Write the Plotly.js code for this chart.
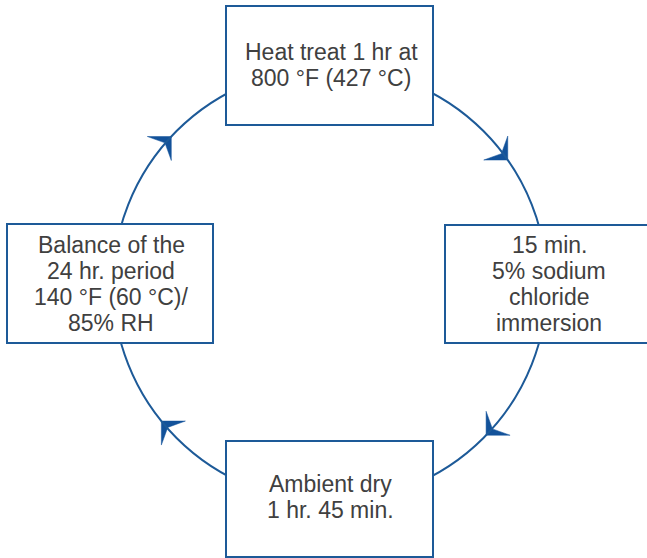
<!DOCTYPE html>
<html>
<head>
<meta charset="utf-8">
<script src="https://cdn.plot.ly/plotly-3.0.1.min.js"></script>
<style>html,body{margin:0;padding:0;background:#fff;}#chart{width:647px;height:558px;}</style>
</head>
<body>
<div id="chart"></div>
<script>
// Cycle steps (clockwise from top)
const stepLabels = [
  "Heat treat 1 hr at<br>800 °F (427 °C)",
  "15 min.<br>5% sodium<br>chloride<br>immersion",
  "Ambient dry<br>1 hr. 45 min.",
  "Balance of the<br>24 hr. period<br>140 °F (60 °C)/<br>85% RH"
];
// Arrow positions on the cycle ring, as angles in degrees
const arrowAngles = [35, -44, -141, 137];

// ---- layout geometry (pixel-space axes) ----
const W = 647, H = 558;
const ring = {cx: 330, cy: 284.5, r: 217};
const boxes = [
  {x0: 226, x1: 433, y0: 6,   y1: 125, tx: 331, ty: 65},
  {x0: 445, x1: 653, y0: 225, y1: 343, tx: 549, ty: 284},
  {x0: 226, x1: 433, y0: 441, y1: 557, tx: 330, ty: 497},
  {x0: 7,   x1: 213, y0: 224, y1: 343, tx: 111, ty: 284}
];
const lineGap = 26;
const blue = "#1d5a98";
const arrowBlue = "#13529a";
const textColor = "#404040";

const shapes = [];
shapes.push({type: "circle", xref: "x", yref: "y",
  x0: ring.cx - ring.r, x1: ring.cx + ring.r, y0: ring.cy - ring.r, y1: ring.cy + ring.r,
  line: {color: blue, width: 2}, fillcolor: "rgba(0,0,0,0)", layer: "above"});
boxes.forEach(b => shapes.push({type: "rect", xref: "x", yref: "y",
  x0: b.x0, x1: b.x1, y0: b.y0, y1: b.y1,
  line: {color: blue, width: 2}, fillcolor: "#ffffff", layer: "above"}));

const annotations = [];
stepLabels.forEach((t, i) => {
  const lines = t.split("<br>");
  const n = lines.length;
  lines.forEach((ln, k) => annotations.push({
    x: boxes[i].tx, y: boxes[i].ty + (k - (n - 1) / 2) * lineGap, xref: "x", yref: "y",
    text: ln, showarrow: false, xanchor: "center", yanchor: "middle", align: "center",
    font: {family: "Liberation Sans, Arial, sans-serif", size: 23, color: textColor}
  }));
});

// arrowheads as filled scatter traces
const traces = arrowAngles.map(a => {
  const th = a * Math.PI / 180;
  const tip = [ring.cx + ring.r * Math.cos(th), ring.cy - ring.r * Math.sin(th)];
  const tx = Math.sin(th), ty = Math.cos(th);
  const d = [Math.sign(tx) / Math.SQRT2, Math.sign(ty) / Math.SQRT2];
  const rot = (v, ang) => [v[0] * Math.cos(ang) - v[1] * Math.sin(ang), v[0] * Math.sin(ang) + v[1] * Math.cos(ang)];
  const L = 24, k = 9;
  const b1 = rot(d, Math.PI / 4), b2 = rot(d, -Math.PI / 4);
  const p1 = [tip[0] - L * b1[0], tip[1] - L * b1[1]];
  const p2 = [tip[0] - L * b2[0], tip[1] - L * b2[1]];
  const nn = [tip[0] - k * d[0], tip[1] - k * d[1]];
  return {type: "scatter", mode: "lines", x: [tip[0], p1[0], nn[0], p2[0], tip[0]],
    y: [tip[1], p1[1], nn[1], p2[1], tip[1]], fill: "toself", fillcolor: arrowBlue,
    line: {color: arrowBlue, width: 0.5}, hoverinfo: "skip", showlegend: false};
});

const layout = {
  width: W, height: H, margin: {l: 0, r: 0, t: 0, b: 0},
  paper_bgcolor: "#ffffff", plot_bgcolor: "#ffffff",
  xaxis: {range: [0, W], visible: false, fixedrange: true},
  yaxis: {range: [H, 0], visible: false, fixedrange: true},
  shapes: shapes, annotations: annotations, showlegend: false
};
Plotly.newPlot("chart", traces, layout, {displayModeBar: false, staticPlot: true});
</script>
</body>
</html>
